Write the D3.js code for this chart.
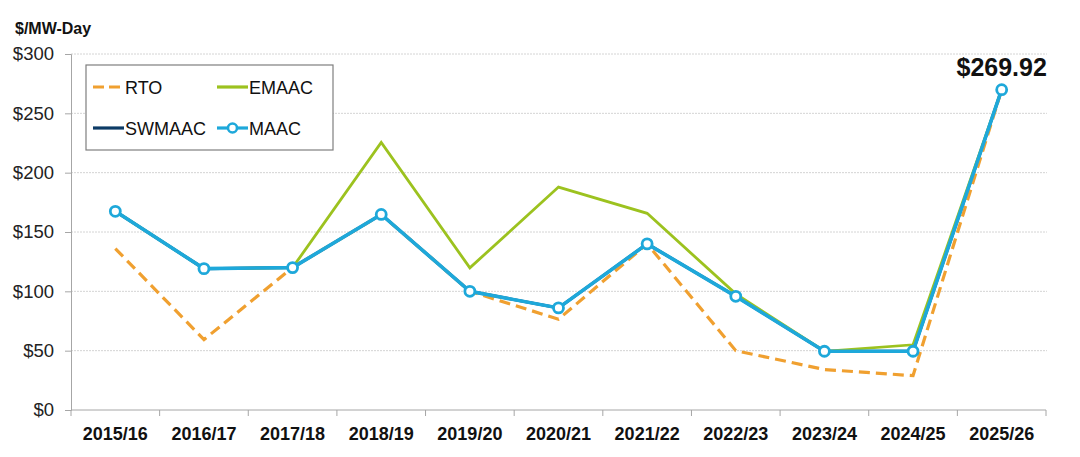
<!DOCTYPE html>
<html>
<head>
<meta charset="utf-8">
<script src="https://cdn.jsdelivr.net/npm/d3@7"></script>
<style>
  html, body { margin: 0; padding: 0; background: #fff; }
  svg { display: block; font-family: "Liberation Sans", Arial, sans-serif; }
</style>
</head>
<body>
<svg id="chart" width="1080" height="457"></svg>
<script>
const categories = ["2015/16","2016/17","2017/18","2018/19","2019/20","2020/21","2021/22","2022/23","2023/24","2024/25","2025/26"];
const rto    = [136.00, 59.37, 120.00, 164.77, 100.00, 76.53, 140.00, 50.00, 34.13, 28.92, 269.92];
const emaac  = [167.46, 119.13, 120.00, 225.42, 119.77, 187.87, 165.73, 97.86, 49.49, 54.95, 269.92];
const swmaac = [167.46, 119.13, 120.00, 164.77, 100.00, 86.04, 140.00, 95.79, 49.49, 49.49, 269.92];
const maac   = [167.46, 119.13, 120.00, 164.77, 100.00, 86.04, 140.00, 95.79, 49.49, 49.49, 269.92];
const yTicks = [0, 50, 100, 150, 200, 250, 300];
const unitLabel = "$/MW-Day";
const highlightLabel = "$269.92";

const svg = d3.select("#chart");
const mLeft = 71, mRight = 1046, mTop = 54, mBottom = 410;

const x = d3.scaleBand().domain(categories).range([mLeft, mRight]).paddingInner(0).paddingOuter(0);
const y = d3.scaleLinear().domain([0, 300]).range([mBottom, mTop]);
const cx = c => x(c) + x.bandwidth() / 2;

// gridlines
svg.append("g").selectAll("line").data(yTicks.filter(d => d > 0)).join("line")
  .attr("x1", mLeft).attr("x2", mRight + 1)
  .attr("y1", d => y(d)).attr("y2", d => y(d))
  .attr("stroke", "#d4d4d4").attr("stroke-width", 1).attr("stroke-dasharray", "2,1");

// y axis
const yAxis = d3.axisLeft(y).tickValues(yTicks).tickSize(6).tickPadding(11).tickFormat(d => "$" + d);
const gy = svg.append("g").attr("transform", `translate(${mLeft},0)`).call(yAxis);
gy.select(".domain").attr("stroke", "#a6a6a6");
gy.selectAll(".tick line").attr("stroke", "#a6a6a6");
gy.selectAll(".tick text").attr("font-size", 18.5).attr("fill", "#222")
  .attr("font-family", "'Liberation Sans', Arial, sans-serif");

// x axis
const xAxis = d3.axisBottom(x).tickSize(0).tickPadding(17);
const gx = svg.append("g").attr("transform", `translate(0,${mBottom})`).call(xAxis);
gx.select(".domain").attr("stroke", "#a6a6a6").attr("d", `M${mLeft},0H${mRight}`);
gx.selectAll(".tick text").attr("font-size", 18).attr("font-weight", "bold").attr("fill", "#111")
  .attr("font-family", "'Liberation Sans', Arial, sans-serif");
// band boundary tick marks
const bounds = categories.map(c => x(c)).concat([mRight]);
gx.append("g").selectAll("line").data(bounds).join("line")
  .attr("x1", d => d).attr("x2", d => d).attr("y1", 0).attr("y2", 6)
  .attr("stroke", "#a6a6a6");

// unit label
svg.append("text").attr("x", 15).attr("y", 34).text(unitLabel)
  .attr("font-size", 16).attr("font-weight", "bold").attr("fill", "#111");

const line = d3.line().x((d, i) => cx(categories[i])).y(d => y(d));

// series
svg.append("path").datum(swmaac).attr("d", line).attr("fill", "none")
  .attr("stroke", "#0d3b66").attr("stroke-width", 3);
svg.append("path").datum(emaac).attr("d", line).attr("fill", "none")
  .attr("stroke", "#9cc21f").attr("stroke-width", 2.8);
svg.append("path").datum(rto).attr("d", line).attr("fill", "none")
  .attr("stroke", "#f0a030").attr("stroke-width", 3.2).attr("stroke-dasharray", "11,6");
svg.append("path").datum(maac).attr("d", line).attr("fill", "none")
  .attr("stroke", "#1ea8da").attr("stroke-width", 3.6);
svg.append("g").selectAll("circle").data(maac).join("circle")
  .attr("cx", (d, i) => cx(categories[i])).attr("cy", d => y(d)).attr("r", 5)
  .attr("fill", "#fff").attr("stroke", "#1ea8da").attr("stroke-width", 2.8);

// highlight label
svg.append("text").attr("x", cx(categories[categories.length - 1])).attr("y", 76)
  .attr("text-anchor", "middle").attr("font-size", 25).attr("font-weight", "bold")
  .attr("fill", "#111").text(highlightLabel);

// legend
const lg = svg.append("g");
lg.append("rect").attr("x", 86).attr("y", 65).attr("width", 247).attr("height", 85)
  .attr("fill", "#fff").attr("stroke", "#7f7f7f").attr("stroke-width", 1.2);
const legendItems = [
  { name: "RTO", color: "#f0a030", dash: "11,5", col: 0, row: 0 },
  { name: "EMAAC", color: "#9cc21f", dash: null, col: 1, row: 0 },
  { name: "SWMAAC", color: "#0d3b66", dash: null, col: 0, row: 1 },
  { name: "MAAC", color: "#1ea8da", dash: null, col: 1, row: 1, marker: true }
];
legendItems.forEach(it => {
  const lx = it.col === 0 ? 93 : 217;
  const ly = it.row === 0 ? 87 : 128;
  lg.append("line").attr("x1", lx).attr("x2", lx + 31).attr("y1", ly).attr("y2", ly)
    .attr("stroke", it.color).attr("stroke-width", 3.2)
    .attr("stroke-dasharray", it.dash);
  if (it.marker) {
    lg.append("circle").attr("cx", lx + 15.5).attr("cy", ly).attr("r", 4.5)
      .attr("fill", "#fff").attr("stroke", it.color).attr("stroke-width", 2.6);
  }
  lg.append("text").attr("x", lx + 32).attr("y", ly + 6.5).text(it.name)
    .attr("font-size", 18).attr("fill", "#111");
});
</script>
</body>
</html>
